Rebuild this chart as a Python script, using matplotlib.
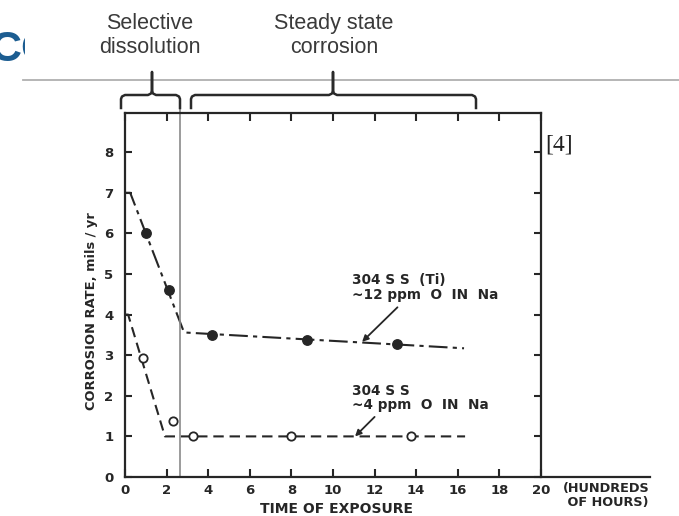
import matplotlib
matplotlib.use("Agg")
import matplotlib.pyplot as plt
from matplotlib.transforms import Affine2D
from matplotlib.patches import Rectangle

W, H = 679, 516
INK = "#262626"

# ---- data ----
ti_x = [1.0, 2.1, 4.2, 8.75, 13.1]
ti_y = [6.0, 4.6, 3.5, 3.37, 3.27]
ti_fit_x = [0.0, 0.25, 2.84, 16.3]
ti_fit_y = [7.0, 7.0, 3.56, 3.17]

ss_x = [0.85, 2.3, 3.27, 8.0, 13.75]
ss_y = [2.92, 1.38, 1.0, 1.0, 1.0]
ss_fit_x = [0.0, 0.15, 1.92, 16.35]
ss_fit_y = [4.0, 4.0, 1.0, 1.0]

x_ticks = list(range(0, 21, 2))
y_ticks = list(range(0, 9))
boundary_x = 2.64

fig = plt.figure(figsize=(W / 100, H / 100), dpi=100)
fig.patch.set_facecolor("white")
pix = Affine2D().scale(1 / W, -1 / H).translate(0, 1) + fig.transFigure

# axes placement (pixels)
x0p, x1p, y0p, ytopp = 125, 650, 477, 113
px_per_x = 20.8
px_per_y = 40.6
ax = fig.add_axes([x0p / W, (H - y0p) / H, (x1p - x0p) / W, (y0p - ytopp) / H])
ax.set_xlim(0, (x1p - x0p) / px_per_x)
ax.set_ylim(0, (y0p - ytopp) / px_per_y)
ax.patch.set_alpha(0)

for s in ax.spines.values():
    s.set_color(INK)
    s.set_linewidth(1.6)
ax.spines["right"].set_position(("data", 20))
ax.spines["top"].set_bounds(0, 20)

ax.set_xticks(x_ticks)
ax.set_yticks(y_ticks)
ax.tick_params(axis="x", direction="in", top=True, bottom=True, length=5.5, width=1.5,
               color=INK, labelsize=9.5, labelcolor=INK, pad=5)
ax.tick_params(axis="y", direction="in", left=True, right=True, length=5, width=1.5,
               color=INK, labelsize=9.5, labelcolor=INK, pad=8.5)
for lab in ax.get_xticklabels() + ax.get_yticklabels():
    lab.set_fontweight("bold")

# fitted lines
ax.plot(ti_fit_x, ti_fit_y, color=INK, lw=1.5, linestyle=(0, (9, 2.5, 2, 2.5)))
ax.plot(ss_fit_x, ss_fit_y, color=INK, lw=1.5, linestyle=(0, (5, 2.8)))
# markers
ax.plot(ti_x, ti_y, "o", color=INK, ms=6.8, zorder=4)
ax.plot(ss_x, ss_y, "o", mfc="white", mec=INK, mew=1.3, ms=6, zorder=4)

# boundary line
ax.plot([boundary_x, boundary_x], [0, (y0p - 108) / px_per_y], color="#8a8a8a",
        lw=1.2, clip_on=False)

# annotations
ax.annotate("", xy=(11.4, 3.33), xytext=(13.1, 4.18),
            arrowprops=dict(arrowstyle="-|>", color=INK, lw=1.3, mutation_scale=9,
                            shrinkA=0, shrinkB=0))
ax.annotate("", xy=(11.06, 1.0), xytext=(12.0, 1.48),
            arrowprops=dict(arrowstyle="-|>", color=INK, lw=1.3, mutation_scale=9,
                            shrinkA=0, shrinkB=0))
ax.text(10.9, 5.02, "304 S S  (Ti)\n~12 ppm  O  IN  Na", fontsize=9.8, color=INK,
        fontweight="bold", va="top", ha="left", linespacing=1.05)
ax.text(10.9, 2.3, "304 S S\n~4 ppm  O  IN  Na", fontsize=9.8, color=INK,
        fontweight="bold", va="top", ha="left", linespacing=1.05)

# axis labels
fig.text(337 / W, 1 - 509 / H, "TIME OF EXPOSURE", fontsize=10, color=INK,
         fontweight="bold", ha="center", va="center")
fig.text(563 / W, 1 - 482 / H, "(HUNDREDS\n OF HOURS)", fontsize=9.3, color=INK,
         fontweight="bold", ha="left", va="top", linespacing=1.1)
fig.text(92 / W, 1 - 311 / H, "CORROSION RATE, mils / yr", fontsize=9.4, color=INK,
         fontweight="bold", ha="center", va="center", rotation=90)

# ---- slide decorations ----
fig.text(-10, 61, "CO", transform=pix, fontsize=31, color="#1c5d91",
         fontweight="bold", family="Liberation Sans", ha="left", va="baseline", zorder=1)
fig.patches.append(Rectangle((25, 0), W - 25, 78, transform=pix, facecolor="white",
                             edgecolor="none", zorder=2))
fig.lines.append(plt.Line2D([23, W], [80, 80], transform=pix, color="#b0b0b0", lw=1.3,
                            zorder=3))

fig.text(150, 53, "Selective\ndissolution", transform=pix, fontsize=15.5, color="#3a3a3a",
         family="Liberation Sans", ha="center", va="baseline", linespacing=1.2, zorder=4)
fig.text(334, 53, "Steady state\ncorrosion", transform=pix, fontsize=15.5, color="#3a3a3a",
         family="Liberation Sans", ha="center", va="baseline", linespacing=1.2, zorder=4)
fig.text(545, 150, "[4]", transform=pix, fontsize=17, color="#222222",
         family="Liberation Serif", ha="left", va="baseline", zorder=4)


def brace(xa, xb, xc, ybar=95, yend=108, ytip=72):
    xs = [xa, xa, xa + 1, xa + 4, xc - 4, xc - 1, xc, xc, xc, xc + 1, xc + 4,
          xb - 4, xb - 1, xb, xb]
    ys = [yend, ybar + 4, ybar + 1.5, ybar, ybar, ybar - 1.5, ybar - 4, ytip,
          ybar - 4, ybar - 1.5, ybar, ybar, ybar + 1.5, ybar + 4, yend]
    fig.lines.append(plt.Line2D(xs, ys, transform=pix, color="#2a2a2a", lw=1.8,
                                solid_joinstyle="round", zorder=4))


brace(121, 180, 152)
brace(191, 476, 333)

fig.savefig("out.png", dpi=100, facecolor="white")
